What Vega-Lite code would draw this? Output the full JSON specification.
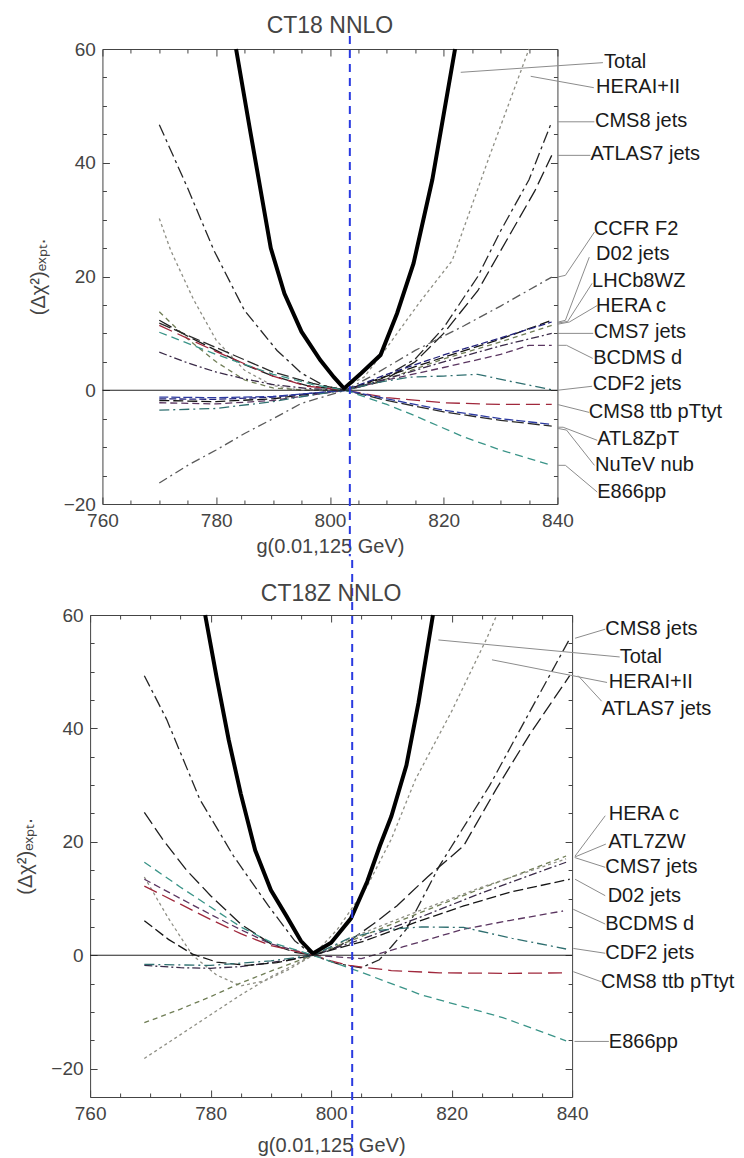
{
  "$schema": "https://vega.github.io/schema/vega-lite/v6.json",
  "background": "white",
  "padding": {"left": 15, "top": 14, "right": 0, "bottom": 0},
  "spacing": 0,
  "center": true,
  "config": {
    "font": "Liberation Sans",
    "view": {"stroke": "#444", "strokeWidth": 1},
    "axis": {"domain": false, "grid": false, "tickColor": "#444", "tickWidth": 1, "labelFont": "Liberation Sans", "labelFontSize": 19, "labelColor": "#444", "titleFont": "Liberation Sans", "titleFontSize": 20, "titleFontWeight": "normal", "titleColor": "#444", "labelFlush": false, "labelOverlap": false},
    "title": {"font": "Liberation Sans", "fontSize": 23, "fontWeight": "normal", "color": "#444"}
  },
  "datasets": {
    "top_curves": [
      {"curve":"HERAI+II","g":770,"chi":30.2},{"curve":"HERAI+II","g":772,"chi":24.6},{"curve":"HERAI+II","g":776,"chi":16},{"curve":"HERAI+II","g":780,"chi":8.8},{"curve":"HERAI+II","g":785,"chi":3.5},{"curve":"HERAI+II","g":790,"chi":0.8},{"curve":"HERAI+II","g":795,"chi":0},{"curve":"HERAI+II","g":800,"chi":0.3},{"curve":"HERAI+II","g":803,"chi":0.8},{"curve":"HERAI+II","g":806,"chi":2.3},{"curve":"HERAI+II","g":810,"chi":7.5},{"curve":"HERAI+II","g":815.8,"chi":15.5},{"curve":"HERAI+II","g":821.5,"chi":22.8},{"curve":"HERAI+II","g":828,"chi":41},{"curve":"HERAI+II","g":835,"chi":60},
      {"curve":"CMS8 jets","g":770,"chi":46.7},{"curve":"CMS8 jets","g":775,"chi":35.5},{"curve":"CMS8 jets","g":779.6,"chi":24.6},{"curve":"CMS8 jets","g":785,"chi":14},{"curve":"CMS8 jets","g":790.7,"chi":7},{"curve":"CMS8 jets","g":795,"chi":3},{"curve":"CMS8 jets","g":799,"chi":0.8},{"curve":"CMS8 jets","g":802.7,"chi":0},{"curve":"CMS8 jets","g":809,"chi":2},{"curve":"CMS8 jets","g":815,"chi":5.5},{"curve":"CMS8 jets","g":820,"chi":11},{"curve":"CMS8 jets","g":826,"chi":20},{"curve":"CMS8 jets","g":830,"chi":28},{"curve":"CMS8 jets","g":835,"chi":37},{"curve":"CMS8 jets","g":839,"chi":47.2},
      {"curve":"ATLAS7 jets","g":770,"chi":12.3},{"curve":"ATLAS7 jets","g":775,"chi":9.5},{"curve":"ATLAS7 jets","g":780,"chi":7},{"curve":"ATLAS7 jets","g":785,"chi":4.5},{"curve":"ATLAS7 jets","g":790,"chi":2.5},{"curve":"ATLAS7 jets","g":796,"chi":0.8},{"curve":"ATLAS7 jets","g":802.7,"chi":0},{"curve":"ATLAS7 jets","g":809,"chi":1.5},{"curve":"ATLAS7 jets","g":815,"chi":5},{"curve":"ATLAS7 jets","g":820,"chi":10},{"curve":"ATLAS7 jets","g":826,"chi":17.5},{"curve":"ATLAS7 jets","g":832,"chi":28},{"curve":"ATLAS7 jets","g":836,"chi":35},{"curve":"ATLAS7 jets","g":839,"chi":41.3},
      {"curve":"CCFR F2","g":770,"chi":-16.3},{"curve":"CCFR F2","g":775,"chi":-13.2},{"curve":"CCFR F2","g":780,"chi":-10.5},{"curve":"CCFR F2","g":785,"chi":-7.6},{"curve":"CCFR F2","g":790,"chi":-5},{"curve":"CCFR F2","g":795,"chi":-2.3},{"curve":"CCFR F2","g":802.7,"chi":0},{"curve":"CCFR F2","g":807,"chi":2.3},{"curve":"CCFR F2","g":815,"chi":7},{"curve":"CCFR F2","g":823.5,"chi":11.3},{"curve":"CCFR F2","g":830,"chi":14.8},{"curve":"CCFR F2","g":839,"chi":19.9},
      {"curve":"D02 jets","g":770,"chi":-1.8},{"curve":"D02 jets","g":780,"chi":-2},{"curve":"D02 jets","g":790,"chi":-1.5},{"curve":"D02 jets","g":797,"chi":-0.6},{"curve":"D02 jets","g":802.7,"chi":0},{"curve":"D02 jets","g":810,"chi":2.5},{"curve":"D02 jets","g":820,"chi":5.8},{"curve":"D02 jets","g":830,"chi":9},{"curve":"D02 jets","g":839,"chi":12.3},
      {"curve":"LHCb8WZ","g":770,"chi":-1.5},{"curve":"LHCb8WZ","g":780,"chi":-1.6},{"curve":"LHCb8WZ","g":790,"chi":-1.2},{"curve":"LHCb8WZ","g":797,"chi":-0.5},{"curve":"LHCb8WZ","g":802.7,"chi":0},{"curve":"LHCb8WZ","g":810,"chi":2.8},{"curve":"LHCb8WZ","g":820,"chi":6.2},{"curve":"LHCb8WZ","g":830,"chi":9.2},{"curve":"LHCb8WZ","g":839,"chi":12},
      {"curve":"HERA c","g":770,"chi":13.8},{"curve":"HERA c","g":775,"chi":9},{"curve":"HERA c","g":780,"chi":5},{"curve":"HERA c","g":785,"chi":1.8},{"curve":"HERA c","g":790,"chi":0.4},{"curve":"HERA c","g":796,"chi":0},{"curve":"HERA c","g":802.7,"chi":0},{"curve":"HERA c","g":810,"chi":2},{"curve":"HERA c","g":820,"chi":5.5},{"curve":"HERA c","g":830,"chi":8.5},{"curve":"HERA c","g":839,"chi":11.4},
      {"curve":"CMS7 jets","g":770,"chi":6.7},{"curve":"CMS7 jets","g":775,"chi":4.8},{"curve":"CMS7 jets","g":780,"chi":3.2},{"curve":"CMS7 jets","g":785,"chi":2},{"curve":"CMS7 jets","g":790,"chi":1},{"curve":"CMS7 jets","g":796,"chi":0.3},{"curve":"CMS7 jets","g":802.7,"chi":0},{"curve":"CMS7 jets","g":810,"chi":2},{"curve":"CMS7 jets","g":820,"chi":5},{"curve":"CMS7 jets","g":830,"chi":7.8},{"curve":"CMS7 jets","g":839,"chi":10},
      {"curve":"BCDMS d","g":770,"chi":-2.2},{"curve":"BCDMS d","g":780,"chi":-2.4},{"curve":"BCDMS d","g":790,"chi":-1.8},{"curve":"BCDMS d","g":797,"chi":-0.8},{"curve":"BCDMS d","g":802.7,"chi":0},{"curve":"BCDMS d","g":810,"chi":1.8},{"curve":"BCDMS d","g":820,"chi":4},{"curve":"BCDMS d","g":830,"chi":6.3},{"curve":"BCDMS d","g":835,"chi":7.9},{"curve":"BCDMS d","g":839,"chi":7.9},
      {"curve":"CDF2 jets","g":770,"chi":-3.5},{"curve":"CDF2 jets","g":780,"chi":-3.2},{"curve":"CDF2 jets","g":790,"chi":-2},{"curve":"CDF2 jets","g":797,"chi":-0.8},{"curve":"CDF2 jets","g":802.7,"chi":0},{"curve":"CDF2 jets","g":808,"chi":1.3},{"curve":"CDF2 jets","g":814,"chi":2.3},{"curve":"CDF2 jets","g":820,"chi":2.5},{"curve":"CDF2 jets","g":826,"chi":2.8},{"curve":"CDF2 jets","g":832,"chi":1.5},{"curve":"CDF2 jets","g":839,"chi":0.1},
      {"curve":"CMS8 ttb pTtyt","g":770,"chi":11.4},{"curve":"CMS8 ttb pTtyt","g":780,"chi":6.8},{"curve":"CMS8 ttb pTtyt","g":790,"chi":2.5},{"curve":"CMS8 ttb pTtyt","g":796,"chi":0.7},{"curve":"CMS8 ttb pTtyt","g":802.7,"chi":0},{"curve":"CMS8 ttb pTtyt","g":810,"chi":-1.3},{"curve":"CMS8 ttb pTtyt","g":820,"chi":-2.2},{"curve":"CMS8 ttb pTtyt","g":830,"chi":-2.5},{"curve":"CMS8 ttb pTtyt","g":839,"chi":-2.5},
      {"curve":"ATL8ZpT","g":770,"chi":11.8},{"curve":"ATL8ZpT","g":780,"chi":7.5},{"curve":"ATL8ZpT","g":790,"chi":3.2},{"curve":"ATL8ZpT","g":797,"chi":1.2},{"curve":"ATL8ZpT","g":802.7,"chi":0},{"curve":"ATL8ZpT","g":810,"chi":-1.8},{"curve":"ATL8ZpT","g":820,"chi":-3.8},{"curve":"ATL8ZpT","g":830,"chi":-5.3},{"curve":"ATL8ZpT","g":839,"chi":-6.3},
      {"curve":"NuTeV nub","g":770,"chi":-1.2},{"curve":"NuTeV nub","g":780,"chi":-1.3},{"curve":"NuTeV nub","g":790,"chi":-1.1},{"curve":"NuTeV nub","g":797,"chi":-0.5},{"curve":"NuTeV nub","g":802.7,"chi":0},{"curve":"NuTeV nub","g":810,"chi":-1.5},{"curve":"NuTeV nub","g":820,"chi":-3.5},{"curve":"NuTeV nub","g":830,"chi":-5},{"curve":"NuTeV nub","g":839,"chi":-6},
      {"curve":"E866pp","g":770,"chi":10.2},{"curve":"E866pp","g":780,"chi":6.3},{"curve":"E866pp","g":790,"chi":2.8},{"curve":"E866pp","g":797,"chi":1},{"curve":"E866pp","g":802.7,"chi":0},{"curve":"E866pp","g":810,"chi":-2.5},{"curve":"E866pp","g":815,"chi":-4.5},{"curve":"E866pp","g":823.5,"chi":-8.2},{"curve":"E866pp","g":830,"chi":-10.5},{"curve":"E866pp","g":839,"chi":-13.2}
    ],
    "top_total": [
      {"g":783.5,"chi":60},{"g":786,"chi":45.5},{"g":789.6,"chi":25},{"g":792,"chi":17},{"g":795,"chi":10.3},{"g":798.3,"chi":5.3},{"g":800.7,"chi":2.3},{"g":802.5,"chi":0.3},{"g":805.5,"chi":3},{"g":808.9,"chi":6.2},{"g":811.8,"chi":13.5},{"g":814.7,"chi":22.3},{"g":818,"chi":37},{"g":822,"chi":60}
    ],
    "top_labels": [
      {"label":"Total","lx":848.2,"ly":57.7},{"label":"HERAI+II","lx":846.8,"ly":53.4},{"label":"CMS8 jets","lx":846.6,"ly":47.3},{"label":"ATLAS7 jets","lx":845.8,"ly":41.5},{"label":"CCFR F2","lx":846.4,"ly":28.4},{"label":"D02 jets","lx":846.8,"ly":23.9},{"label":"LHCb8WZ","lx":846.1,"ly":19.2},{"label":"HERA c","lx":846.8,"ly":14.9},{"label":"CMS7 jets","lx":846.4,"ly":10.2},{"label":"BCDMS d","lx":846.3,"ly":5.7},{"label":"CDF2 jets","lx":846.2,"ly":1.05},{"label":"CMS8 ttb pTtyt","lx":845.5,"ly":-3.8},{"label":"ATL8ZpT","lx":847,"ly":-8.5},{"label":"NuTeV nub","lx":846.6,"ly":-13.2},{"label":"E866pp","lx":847,"ly":-17.9}
    ],
    "top_leaders": [
      {"id":"Total","seq":0,"g":823,"chi":55.9},{"id":"Total","seq":1,"g":848,"chi":57.6},
      {"id":"HERAI+II","seq":0,"g":835.3,"chi":55.2},{"id":"HERAI+II","seq":1,"g":846.4,"chi":53.2},
      {"id":"CMS8 jets","seq":0,"g":840,"chi":47.2},{"id":"CMS8 jets","seq":1,"g":846.5,"chi":47.2},
      {"id":"ATLAS7 jets","seq":0,"g":840,"chi":41.3},{"id":"ATLAS7 jets","seq":1,"g":845.8,"chi":41.3},
      {"id":"CCFR F2","seq":0,"g":840,"chi":19.9},{"id":"CCFR F2","seq":1,"g":841.4,"chi":20.2},{"id":"CCFR F2","seq":2,"g":846.5,"chi":27.8},
      {"id":"D02 jets","seq":0,"g":840,"chi":11.95},{"id":"D02 jets","seq":1,"g":841.4,"chi":12.3},{"id":"D02 jets","seq":2,"g":845.6,"chi":23.4},
      {"id":"LHCb8WZ","seq":0,"g":840,"chi":11.8},{"id":"LHCb8WZ","seq":1,"g":841.8,"chi":12.1},{"id":"LHCb8WZ","seq":2,"g":846.1,"chi":18.8},
      {"id":"HERA c","seq":0,"g":840,"chi":11.6},{"id":"HERA c","seq":1,"g":842.1,"chi":12},{"id":"HERA c","seq":2,"g":847,"chi":14.9},
      {"id":"CMS7 jets","seq":0,"g":840,"chi":10},{"id":"CMS7 jets","seq":1,"g":846.3,"chi":10},
      {"id":"BCDMS d","seq":0,"g":840,"chi":7.9},{"id":"BCDMS d","seq":1,"g":841.6,"chi":7.9},{"id":"BCDMS d","seq":2,"g":846.2,"chi":5.6},
      {"id":"CDF2 jets","seq":0,"g":840,"chi":0},{"id":"CDF2 jets","seq":1,"g":846.1,"chi":0.7},
      {"id":"CMS8 ttb pTtyt","seq":0,"g":840,"chi":-2.5},{"id":"CMS8 ttb pTtyt","seq":1,"g":845.6,"chi":-3.9},
      {"id":"ATL8ZpT","seq":0,"g":840,"chi":-6.5},{"id":"ATL8ZpT","seq":1,"g":841,"chi":-6.5},{"id":"ATL8ZpT","seq":2,"g":847,"chi":-8.8},
      {"id":"NuTeV nub","seq":0,"g":840,"chi":-6.7},{"id":"NuTeV nub","seq":1,"g":841.6,"chi":-7},{"id":"NuTeV nub","seq":2,"g":846.5,"chi":-13.2},
      {"id":"E866pp","seq":0,"g":840,"chi":-13.2},{"id":"E866pp","seq":1,"g":841.4,"chi":-13.2},{"id":"E866pp","seq":2,"g":847,"chi":-17.9}
    ],
    "bot_curves": [
      {"curve":"CMS8 jets","g":769,"chi":49.3},{"curve":"CMS8 jets","g":772.7,"chi":41.6},{"curve":"CMS8 jets","g":778.2,"chi":27.5},{"curve":"CMS8 jets","g":783.8,"chi":17.5},{"curve":"CMS8 jets","g":789.6,"chi":8.7},{"curve":"CMS8 jets","g":794,"chi":2.5},{"curve":"CMS8 jets","g":797,"chi":0},{"curve":"CMS8 jets","g":801,"chi":-1.5},{"curve":"CMS8 jets","g":805,"chi":-2.2},{"curve":"CMS8 jets","g":808,"chi":-0.8},{"curve":"CMS8 jets","g":810,"chi":1.5},{"curve":"CMS8 jets","g":812.5,"chi":4.6},{"curve":"CMS8 jets","g":818,"chi":15.8},{"curve":"CMS8 jets","g":826.3,"chi":29.9},{"curve":"CMS8 jets","g":833,"chi":43},{"curve":"CMS8 jets","g":839.6,"chi":55.8},
      {"curve":"ATLAS7 jets","g":769,"chi":25.2},{"curve":"ATLAS7 jets","g":772,"chi":20.5},{"curve":"ATLAS7 jets","g":776,"chi":15},{"curve":"ATLAS7 jets","g":780,"chi":10.5},{"curve":"ATLAS7 jets","g":785,"chi":5.5},{"curve":"ATLAS7 jets","g":790,"chi":2},{"curve":"ATLAS7 jets","g":794,"chi":0.5},{"curve":"ATLAS7 jets","g":797,"chi":0},{"curve":"ATLAS7 jets","g":800,"chi":1},{"curve":"ATLAS7 jets","g":803.4,"chi":2.8},{"curve":"ATLAS7 jets","g":807,"chi":5.5},{"curve":"ATLAS7 jets","g":810.9,"chi":8.7},{"curve":"ATLAS7 jets","g":816,"chi":13.8},{"curve":"ATLAS7 jets","g":822,"chi":19.3},{"curve":"ATLAS7 jets","g":827.4,"chi":29.3},{"curve":"ATLAS7 jets","g":833,"chi":39},{"curve":"ATLAS7 jets","g":839.6,"chi":49.3},
      {"curve":"HERAI+II","g":769,"chi":13.8},{"curve":"HERAI+II","g":773,"chi":6.5},{"curve":"HERAI+II","g":777,"chi":0},{"curve":"HERAI+II","g":781,"chi":-3.5},{"curve":"HERAI+II","g":785,"chi":-5.4},{"curve":"HERAI+II","g":789,"chi":-4.5},{"curve":"HERAI+II","g":793,"chi":-2.5},{"curve":"HERAI+II","g":797,"chi":0},{"curve":"HERAI+II","g":801,"chi":4.5},{"curve":"HERAI+II","g":806,"chi":12.2},{"curve":"HERAI+II","g":810,"chi":20.5},{"curve":"HERAI+II","g":814,"chi":31},{"curve":"HERAI+II","g":820,"chi":43},{"curve":"HERAI+II","g":825.8,"chi":55.8},{"curve":"HERAI+II","g":827.5,"chi":60},
      {"curve":"HERA c","g":769,"chi":-11.9},{"curve":"HERA c","g":775,"chi":-9.5},{"curve":"HERA c","g":780,"chi":-7.3},{"curve":"HERA c","g":785,"chi":-4.9},{"curve":"HERA c","g":790,"chi":-2.8},{"curve":"HERA c","g":797,"chi":0},{"curve":"HERA c","g":805,"chi":3.3},{"curve":"HERA c","g":815,"chi":7.6},{"curve":"HERA c","g":825,"chi":11.8},{"curve":"HERA c","g":839,"chi":17.5},
      {"curve":"ATL7ZW","g":769,"chi":-18.2},{"curve":"ATL7ZW","g":775,"chi":-14},{"curve":"ATL7ZW","g":780,"chi":-10.5},{"curve":"ATL7ZW","g":785,"chi":-7},{"curve":"ATL7ZW","g":790,"chi":-3.8},{"curve":"ATL7ZW","g":797,"chi":0},{"curve":"ATL7ZW","g":805,"chi":3.8},{"curve":"ATL7ZW","g":815,"chi":8},{"curve":"ATL7ZW","g":825,"chi":12},{"curve":"ATL7ZW","g":839,"chi":17},
      {"curve":"CMS7 jets","g":769,"chi":-1.8},{"curve":"CMS7 jets","g":775,"chi":-2.2},{"curve":"CMS7 jets","g":780,"chi":-2.3},{"curve":"CMS7 jets","g":785,"chi":-2},{"curve":"CMS7 jets","g":790,"chi":-1.3},{"curve":"CMS7 jets","g":797,"chi":0},{"curve":"CMS7 jets","g":805,"chi":2.8},{"curve":"CMS7 jets","g":815,"chi":6.8},{"curve":"CMS7 jets","g":825,"chi":11},{"curve":"CMS7 jets","g":839,"chi":16.4},
      {"curve":"D02 jets","g":769,"chi":6.1},{"curve":"D02 jets","g":773,"chi":2.8},{"curve":"D02 jets","g":777,"chi":0.2},{"curve":"D02 jets","g":781,"chi":-1.2},{"curve":"D02 jets","g":786,"chi":-1.8},{"curve":"D02 jets","g":791,"chi":-1.3},{"curve":"D02 jets","g":797,"chi":0},{"curve":"D02 jets","g":805.5,"chi":2.5},{"curve":"D02 jets","g":814,"chi":5.8},{"curve":"D02 jets","g":822,"chi":8.7},{"curve":"D02 jets","g":830,"chi":11.2},{"curve":"D02 jets","g":839.6,"chi":13.4},
      {"curve":"BCDMS d","g":769,"chi":13.4},{"curve":"BCDMS d","g":775,"chi":10},{"curve":"BCDMS d","g":780,"chi":7.2},{"curve":"BCDMS d","g":785,"chi":4.5},{"curve":"BCDMS d","g":790,"chi":2},{"curve":"BCDMS d","g":797,"chi":0},{"curve":"BCDMS d","g":805,"chi":-0.6},{"curve":"BCDMS d","g":812,"chi":1.5},{"curve":"BCDMS d","g":822,"chi":4.6},{"curve":"BCDMS d","g":830,"chi":6.2},{"curve":"BCDMS d","g":838.5,"chi":7.8},
      {"curve":"CDF2 jets","g":769,"chi":-1.6},{"curve":"CDF2 jets","g":780,"chi":-1.8},{"curve":"CDF2 jets","g":790,"chi":-1},{"curve":"CDF2 jets","g":797,"chi":0},{"curve":"CDF2 jets","g":803,"chi":3},{"curve":"CDF2 jets","g":808,"chi":4.4},{"curve":"CDF2 jets","g":815,"chi":5},{"curve":"CDF2 jets","g":822,"chi":4.9},{"curve":"CDF2 jets","g":830,"chi":3},{"curve":"CDF2 jets","g":839,"chi":1.1},
      {"curve":"CMS8 ttb pTtyt","g":769,"chi":12.2},{"curve":"CMS8 ttb pTtyt","g":775,"chi":9},{"curve":"CMS8 ttb pTtyt","g":780,"chi":6.3},{"curve":"CMS8 ttb pTtyt","g":785,"chi":3.8},{"curve":"CMS8 ttb pTtyt","g":790,"chi":1.7},{"curve":"CMS8 ttb pTtyt","g":797,"chi":0},{"curve":"CMS8 ttb pTtyt","g":800,"chi":-1},{"curve":"CMS8 ttb pTtyt","g":803,"chi":-1.8},{"curve":"CMS8 ttb pTtyt","g":806,"chi":-2.2},{"curve":"CMS8 ttb pTtyt","g":810,"chi":-2.7},{"curve":"CMS8 ttb pTtyt","g":818,"chi":-3.1},{"curve":"CMS8 ttb pTtyt","g":830,"chi":-3.2},{"curve":"CMS8 ttb pTtyt","g":839,"chi":-3.1},
      {"curve":"E866pp","g":769,"chi":16.4},{"curve":"E866pp","g":775,"chi":12},{"curve":"E866pp","g":780,"chi":8.5},{"curve":"E866pp","g":785,"chi":5},{"curve":"E866pp","g":790,"chi":2.3},{"curve":"E866pp","g":797,"chi":0},{"curve":"E866pp","g":805,"chi":-3},{"curve":"E866pp","g":815,"chi":-7},{"curve":"E866pp","g":828.5,"chi":-11},{"curve":"E866pp","g":839,"chi":-15.1}
    ],
    "bot_total": [
      {"g":779.1,"chi":60},{"g":781,"chi":49},{"g":783,"chi":38},{"g":785,"chi":28.5},{"g":787.4,"chi":18.5},{"g":790,"chi":11.5},{"g":792.6,"chi":6.9},{"g":795,"chi":2.5},{"g":797,"chi":0.3},{"g":800,"chi":2.2},{"g":803.3,"chi":6.5},{"g":806,"chi":13},{"g":808.1,"chi":19.3},{"g":810,"chi":24.5},{"g":812.5,"chi":33.5},{"g":814.5,"chi":44.5},{"g":816.9,"chi":60}
    ],
    "bot_labels": [
      {"label":"CMS8 jets","lx":845.5,"ly":57.5},{"label":"Total","lx":847.9,"ly":52.6},{"label":"HERAI+II","lx":846.1,"ly":48.1},{"label":"ATLAS7 jets","lx":844.9,"ly":43.4},{"label":"HERA c","lx":846.1,"ly":24.9},{"label":"ATL7ZW","lx":846,"ly":20},{"label":"CMS7 jets","lx":845.5,"ly":15.5},{"label":"D02 jets","lx":845.9,"ly":10.4},{"label":"BCDMS d","lx":845.5,"ly":5.5},{"label":"CDF2 jets","lx":845.5,"ly":0.35},{"label":"CMS8 ttb pTtyt","lx":844.8,"ly":-4.7},{"label":"E866pp","lx":846.1,"ly":-15.3}
    ],
    "bot_leaders": [
      {"id":"CMS8 jets","seq":0,"g":840.5,"chi":55.9},{"id":"CMS8 jets","seq":1,"g":845.5,"chi":57.5},
      {"id":"Total","seq":0,"g":817.8,"chi":55.6},{"id":"Total","seq":1,"g":847.9,"chi":52.6},
      {"id":"HERAI+II","seq":0,"g":826.7,"chi":52.1},{"id":"HERAI+II","seq":1,"g":845.8,"chi":48.1},
      {"id":"ATLAS7 jets","seq":0,"g":841,"chi":49.3},{"id":"ATLAS7 jets","seq":1,"g":844.9,"chi":44.8},
      {"id":"HERA c","seq":0,"g":840.5,"chi":17.5},{"id":"HERA c","seq":1,"g":845.5,"chi":24.6},
      {"id":"ATL7ZW","seq":0,"g":840.4,"chi":17.3},{"id":"ATL7ZW","seq":1,"g":845.6,"chi":19.6},
      {"id":"CMS7 jets","seq":0,"g":840.5,"chi":17.2},{"id":"CMS7 jets","seq":1,"g":845.5,"chi":15.5},
      {"id":"D02 jets","seq":0,"g":840.5,"chi":13.4},{"id":"D02 jets","seq":1,"g":845.5,"chi":10.5},
      {"id":"BCDMS d","seq":0,"g":840.2,"chi":8.1},{"id":"BCDMS d","seq":1,"g":845.5,"chi":5.5},
      {"id":"CDF2 jets","seq":0,"g":840.2,"chi":1.2},{"id":"CDF2 jets","seq":1,"g":845.5,"chi":0.35},
      {"id":"CMS8 ttb pTtyt","seq":0,"g":840.2,"chi":-2.9},{"id":"CMS8 ttb pTtyt","seq":1,"g":844.9,"chi":-4.7},
      {"id":"E866pp","seq":0,"g":840.4,"chi":-15.2},{"id":"E866pp","seq":1,"g":846.1,"chi":-15.2}
    ]
  },
  "vconcat": [
    {
      "width": 455, "height": 455,
      "title": {"text": "CT18 NNLO", "offset": -3},
      "resolve": {"axis": {"x": "independent", "y": "independent"}},
      "layer": [
        {
          "data": {"name": "top_curves"},
          "mark": {"type": "line", "strokeWidth": 1.3},
          "encoding": {
            "x": {"field": "g", "type": "quantitative", "scale": {"domain": [760, 840], "nice": false, "zero": false},
                  "axis": {"orient": "bottom", "values": [760, 780, 800, 820, 840], "tickSize": -7, "labelPadding": 14, "title": "g(0.01,125 GeV)", "titlePadding": 6}},
            "y": {"field": "chi", "type": "quantitative", "scale": {"domain": [-20, 60], "nice": false, "zero": false},
                  "axis": {"orient": "left", "values": [-20, 0, 20, 40, 60], "tickSize": -7, "labelPadding": 14, "title": "(Δχ²)ₑₓₚₜ.", "titlePadding": 15}},
            "detail": {"field": "curve"},
            "color": {"field": "curve", "type": "nominal", "legend": null,
                      "scale": {"domain": ["HERAI+II","CMS8 jets","ATLAS7 jets","CCFR F2","D02 jets","LHCb8WZ","HERA c","CMS7 jets","BCDMS d","CDF2 jets","CMS8 ttb pTtyt","ATL8ZpT","NuTeV nub","E866pp"],
                                "range": ["#8f8f85","#262626","#1e1e1e","#5a5a5a","#151515","#22227a","#6f7d55","#3a2a48","#5a3560","#2f6f70","#a0283c","#2a2a2a","#2c3aa0","#3a9488"]}},
            "strokeDash": {"field": "curve", "type": "nominal", "legend": null,
                      "scale": {"domain": ["HERAI+II","CMS8 jets","ATLAS7 jets","CCFR F2","D02 jets","LHCb8WZ","HERA c","CMS7 jets","BCDMS d","CDF2 jets","CMS8 ttb pTtyt","ATL8ZpT","NuTeV nub","E866pp"],
                                "range": [[3,3],[12,4,3,4],[14,5],[9,4,2,4],[10,4],[7,3],[5,4],[8,3,2,3],[7,4],[10,4,2,4],[14,6],[12,4],[9,3],[8,5]]}}
          }
        },
        {
          "data": {"name": "top_total"},
          "mark": {"type": "line", "color": "#000", "strokeWidth": 4},
          "encoding": {
            "x": {"field": "g", "type": "quantitative", "axis": {"orient": "bottom", "values": [765,770,775,785,790,795,805,810,815,825,830,835], "tickSize": -4, "labels": false, "title": null}},
            "y": {"field": "chi", "type": "quantitative", "axis": {"orient": "left", "values": [-15,-10,-5,5,10,15,25,30,35,45,50,55], "tickSize": -4, "labels": false, "title": null}}
          }
        },
        {
          "data": {"name": "top_leaders"},
          "mark": {"type": "line", "color": "#8c8c8c", "strokeWidth": 1},
          "encoding": {
            "x": {"field": "g", "type": "quantitative", "axis": {"orient": "top", "values": [760, 780, 800, 820, 840], "tickSize": -7, "labels": false, "title": null}},
            "y": {"field": "chi", "type": "quantitative", "axis": {"orient": "right", "values": [-20, 0, 20, 40, 60], "tickSize": -7, "labels": false, "title": null}},
            "detail": {"field": "id"},
            "order": {"field": "seq", "type": "quantitative"}
          }
        },
        {
          "data": {"name": "top_labels"},
          "mark": {"type": "text", "align": "left", "baseline": "middle", "fontSize": 20, "font": "Liberation Sans", "color": "#1a1a1a"},
          "encoding": {
            "x": {"field": "lx", "type": "quantitative", "axis": {"orient": "top", "values": [765,770,775,785,790,795,805,810,815,825,830,835], "tickSize": -4, "labels": false, "title": null}},
            "y": {"field": "ly", "type": "quantitative", "axis": {"orient": "right", "values": [-15,-10,-5,5,10,15,25,30,35,45,50,55], "tickSize": -4, "labels": false, "title": null}},
            "text": {"field": "label"}
          }
        },
        {
          "data": {"values": [{}]},
          "mark": {"type": "rule", "color": "#222", "strokeWidth": 1},
          "encoding": {"y": {"datum": 0, "type": "quantitative", "axis": null}}
        },
        {
          "data": {"values": [{}]},
          "mark": {"type": "rule", "color": "#2a3ae0", "strokeWidth": 2, "strokeDash": [8, 6]},
          "encoding": {
            "x": {"datum": 803.5, "type": "quantitative", "axis": null},
            "y": {"datum": 62.3, "type": "quantitative", "axis": null},
            "y2": {"datum": -29.2}
          }
        }
      ]
    },
    {
      "width": 482, "height": 482,
      "title": {"text": "CT18Z NNLO", "offset": -47},
      "resolve": {"axis": {"x": "independent", "y": "independent"}},
      "layer": [
        {
          "data": {"name": "bot_curves"},
          "mark": {"type": "line", "strokeWidth": 1.3},
          "encoding": {
            "x": {"field": "g", "type": "quantitative", "scale": {"domain": [760, 840], "nice": false, "zero": false},
                  "axis": {"orient": "bottom", "values": [760, 780, 800, 820, 840], "tickSize": -7, "labelPadding": 14, "title": "g(0.01,125 GeV)", "titlePadding": 12}},
            "y": {"field": "chi", "type": "quantitative", "scale": {"domain": [-25, 60], "nice": false, "zero": false},
                  "axis": {"orient": "left", "values": [-20, 0, 20, 40, 60], "tickSize": -7, "labelPadding": 14, "title": "(Δχ²)ₑₓₚₜ.", "titlePadding": 15}},
            "detail": {"field": "curve"},
            "color": {"field": "curve", "type": "nominal", "legend": null,
                      "scale": {"domain": ["CMS8 jets","ATLAS7 jets","HERAI+II","HERA c","ATL7ZW","CMS7 jets","D02 jets","BCDMS d","CDF2 jets","CMS8 ttb pTtyt","E866pp"],
                                "range": ["#4a1e38","#5a2040","#8f8f85","#1e1e1e","#4f6e6e","#2a2a66","#222222","#3a9080","#2a4f50","#8a2a42","#3a9488"]}},
            "strokeDash": {"field": "curve", "type": "nominal", "legend": null,
                      "scale": {"domain": ["CMS8 jets","ATLAS7 jets","HERAI+II","HERA c","ATL7ZW","CMS7 jets","D02 jets","BCDMS d","CDF2 jets","CMS8 ttb pTtyt","E866pp"],
                                "range": [[14,5],[12,4,3,4],[3,3],[12,4,2,4],[8,4,2,4],[7,3],[10,5],[5,4],[10,4,2,4],[14,5,3,5],[9,5]]}}
          }
        },
        {
          "data": {"name": "bot_total"},
          "mark": {"type": "line", "color": "#000", "strokeWidth": 4},
          "encoding": {
            "x": {"field": "g", "type": "quantitative", "axis": {"orient": "bottom", "values": [765,770,775,785,790,795,805,810,815,825,830,835], "tickSize": -4, "labels": false, "title": null}},
            "y": {"field": "chi", "type": "quantitative", "axis": {"orient": "left", "values": [-15,-10,-5,5,10,15,25,30,35,45,50,55], "tickSize": -4, "labels": false, "title": null}}
          }
        },
        {
          "data": {"name": "bot_leaders"},
          "mark": {"type": "line", "color": "#8c8c8c", "strokeWidth": 1},
          "encoding": {
            "x": {"field": "g", "type": "quantitative", "axis": {"orient": "top", "values": [760, 780, 800, 820, 840], "tickSize": -7, "labels": false, "title": null}},
            "y": {"field": "chi", "type": "quantitative", "axis": {"orient": "right", "values": [-20, 0, 20, 40, 60], "tickSize": -7, "labels": false, "title": null}},
            "detail": {"field": "id"},
            "order": {"field": "seq", "type": "quantitative"}
          }
        },
        {
          "data": {"name": "bot_labels"},
          "mark": {"type": "text", "align": "left", "baseline": "middle", "fontSize": 20, "font": "Liberation Sans", "color": "#1a1a1a"},
          "encoding": {
            "x": {"field": "lx", "type": "quantitative", "axis": {"orient": "top", "values": [765,770,775,785,790,795,805,810,815,825,830,835], "tickSize": -4, "labels": false, "title": null}},
            "y": {"field": "ly", "type": "quantitative", "axis": {"orient": "right", "values": [-15,-10,-5,5,10,15,25,30,35,45,50,55], "tickSize": -4, "labels": false, "title": null}},
            "text": {"field": "label"}
          }
        },
        {
          "data": {"values": [{}]},
          "mark": {"type": "rule", "color": "#222", "strokeWidth": 1},
          "encoding": {"y": {"datum": 0, "type": "quantitative", "axis": null}}
        },
        {
          "data": {"values": [{}]},
          "mark": {"type": "rule", "color": "#2a3ae0", "strokeWidth": 2, "strokeDash": [8, 6]},
          "encoding": {
            "x": {"datum": 803.5, "type": "quantitative", "axis": null},
            "y": {"datum": 69.7, "type": "quantitative", "axis": null},
            "y2": {"datum": -35.6}
          }
        }
      ]
    }
  ]
}
